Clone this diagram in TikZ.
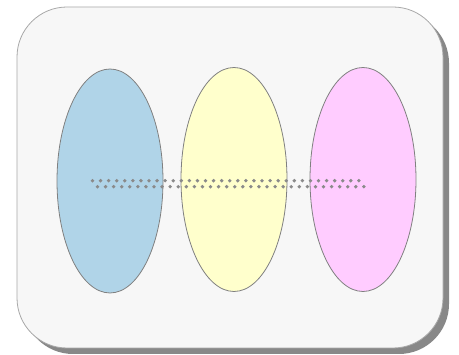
\documentclass[tikz,border=0pt]{standalone}
\usetikzlibrary{shapes.geometric,calc}
\definecolor{bgfill}{HTML}{F7F7F7}
\definecolor{bgline}{HTML}{A8A8A8}
\definecolor{shadowc}{HTML}{888888}
\definecolor{cblue}{HTML}{B0D4E8}
\definecolor{cyellow}{HTML}{FFFFCC}
\definecolor{cpink}{HTML}{FFCCFF}
\definecolor{edgec}{HTML}{808080}
\definecolor{dotc}{HTML}{8A8A8A}
\tikzset{
  blob/.style={ellipse, draw=edgec, line width=0.8pt, minimum width=106pt, minimum height=224pt, inner sep=0pt},
  dotfill/.style={fill=dotc},
}
\begin{document}
\begin{tikzpicture}[x=1pt,y=-1pt]
\useasboundingbox (0,0) rectangle (459,355);
\fill[shadowc, rounded corners=50pt] (23,13) rectangle (449,354);
\draw[bgline, fill=bgfill, line width=0.8pt, rounded corners=50pt] (17,7) rectangle (443,348);
\node[blob, fill=cblue] (a) at (110,181) {};
\node[blob, fill=cyellow] (b) at (234,179.5) {};
\node[blob, fill=cpink] (c) at (363,179.5) {};
\coordinate (r1s) at (92.5,180.7);
\coordinate (r1e) at (358.9,180.7);
\coordinate (r2s) at (97.5,186.7);
\coordinate (r2e) at (363.9,186.7);
\foreach \i in {0,...,33} {
  \fill[dotfill] ($(r1s)!\i/33!(r1e)$) circle (1.9pt);
  \fill[dotfill] ($(r2s)!\i/33!(r2e)$) circle (1.9pt);
}
\end{tikzpicture}
\end{document}
